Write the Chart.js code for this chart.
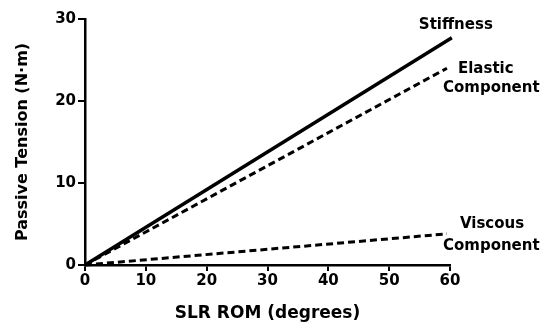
<!DOCTYPE html>
<html lang="en">
<head>
  <meta charset="UTF-8">
  <title>Passive Tension vs SLR ROM</title>
  <script src="https://cdn.jsdelivr.net/npm/chart.js"></script>
  <style>
    body { margin: 0; background: #fff; }
    #wrap { width: 549px; height: 324px; }
  </style>
</head>
<body>
  <div id="wrap">
    <canvas id="tensionChart" width="549" height="324"></canvas>
  </div>

  <script>
    // SLR range of motion (degrees) and passive tension (N·m) per component
    const stiffnessRom = [0, 60.3];
    const stiffnessTension = [0, 27.7];
    const elasticRom = [0, 59.5];
    const elasticTension = [0, 24.0];
    const viscousRom = [0, 59.5];
    const viscousTension = [0, 3.8];

    const xTicks = [0, 10, 20, 30, 40, 50, 60];
    const yTicks = [0, 10, 20, 30];

    const FONT = "'DejaVu Sans', sans-serif";

    function toPoints(xs, ys) {
      return xs.map((x, i) => ({ x: x, y: ys[i] }));
    }

    // line-end labels, placed next to the last point of each series
    const endLabels = {
      id: "endLabels",
      afterDatasetsDraw(chart) {
        const ctx = chart.ctx;
        const xs = chart.scales.x;
        const ys = chart.scales.y;
        const end = (rom, ten) => ({
          x: xs.getPixelForValue(rom[rom.length - 1]),
          y: ys.getPixelForValue(ten[ten.length - 1]),
        });
        ctx.save();
        ctx.fillStyle = "#000";
        ctx.font = "bold 15px " + FONT;
        ctx.textBaseline = "middle";

        const s = end(stiffnessRom, stiffnessTension);
        ctx.textAlign = "center";
        ctx.fillText("Stiffness", s.x + 4, s.y - 13);

        ctx.textAlign = "left";
        const e = end(elasticRom, elasticTension);
        ctx.fillText("Elastic", e.x + 11, e.y + 1);
        ctx.fillText("Component", e.x - 4, e.y + 20);

        const v = end(viscousRom, viscousTension);
        ctx.fillText("Viscous", v.x + 13, v.y - 10);
        ctx.fillText("Component", v.x - 4, v.y + 12);
        ctx.restore();
      },
    };

    const ctx = document.getElementById("tensionChart").getContext("2d");
    const tensionChart = new Chart(ctx, {
      type: "line",
      data: {
        datasets: [
          {
            label: "Stiffness",
            data: toPoints(stiffnessRom, stiffnessTension),
            borderColor: "#000",
            borderWidth: 3.5,
          },
          {
            label: "Elastic Component",
            data: toPoints(elasticRom, elasticTension),
            borderColor: "#000",
            borderWidth: 3,
            borderDash: [7, 4],
          },
          {
            label: "Viscous Component",
            data: toPoints(viscousRom, viscousTension),
            borderColor: "#000",
            borderWidth: 3,
            borderDash: [7, 4],
          },
        ],
      },
      options: {
        responsive: false,
        animation: false,
        clip: false,
        elements: { point: { radius: 0 }, line: { tension: 0, fill: false } },
        layout: { padding: { left: 0, right: 99, top: 19, bottom: 0 } },
        plugins: { legend: { display: false }, tooltip: { enabled: false } },
        scales: {
          x: {
            type: "linear",
            min: 0,
            max: 60,
            afterFit(scale) { scale.height = 59; },
            afterBuildTicks(scale) { scale.ticks = xTicks.map(v => ({ value: v })); },
            grid: { drawOnChartArea: false, drawTicks: true, tickLength: 6, color: "#000", lineWidth: 2 },
            border: { color: "#000", width: 2.5 },
            ticks: { color: "#000", font: { family: FONT, size: 15, weight: "bold" }, padding: 1 },
            title: {
              display: true,
              text: "SLR ROM (degrees)",
              color: "#000",
              font: { family: FONT, size: 17, weight: "bold" },
              padding: { top: 8, bottom: 0 },
            },
          },
          y: {
            min: 0,
            max: 30,
            afterFit(scale) { scale.width = 85; },
            afterBuildTicks(scale) { scale.ticks = yTicks.map(v => ({ value: v })); },
            grid: { drawOnChartArea: false, drawTicks: true, tickLength: 7, color: "#000", lineWidth: 2 },
            border: { color: "#000", width: 2.5 },
            ticks: { color: "#000", font: { family: FONT, size: 15, weight: "bold" }, padding: 2 },
            title: {
              display: true,
              text: "Passive Tension (N·m)",
              color: "#000",
              font: { family: FONT, size: 16, weight: "bold" },
              padding: { top: 13, bottom: 0 },
            },
          },
        },
      },
      plugins: [endLabels],
    });
  </script>
</body>
</html>
